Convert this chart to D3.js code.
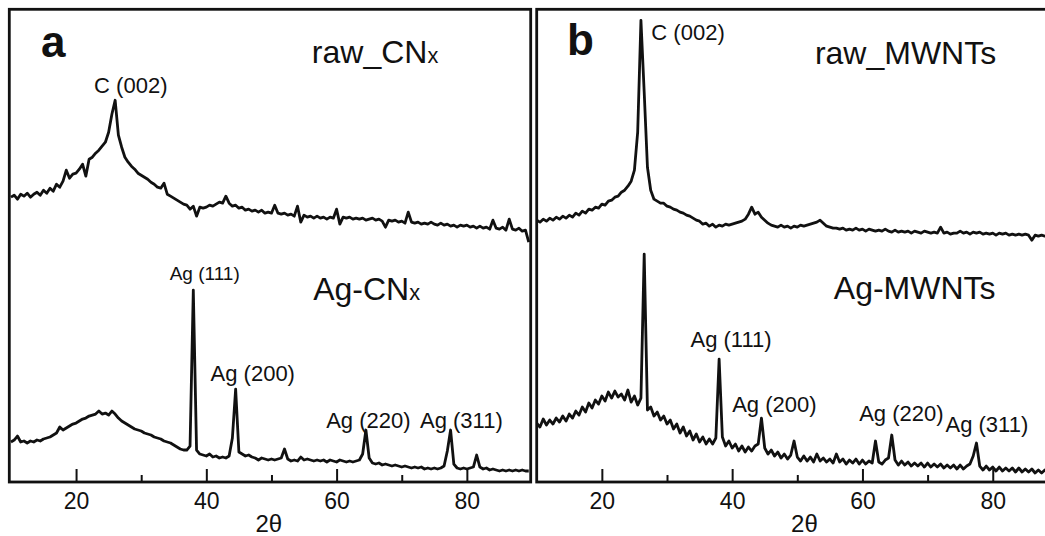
<!DOCTYPE html>
<html><head><meta charset="utf-8">
<script src="https://cdn.jsdelivr.net/npm/d3@7"></script>
<style>
body{margin:0;background:#fff}
svg{display:block}
text{font-family:"Liberation Sans",Arial,Helvetica,sans-serif;fill:#111}
.letter{font-size:44px;font-weight:bold}
.big{font-size:32px}
.peak{font-size:22px}
.peaksm{font-size:19px}
.tick text{font-size:23px;fill:#111}
.title{font-size:24px}
</style>
</head><body><svg id="c" width="1045" height="536"></svg>
<script>
// 2θ grid (degrees)
const twoTheta=[
10,10.5,11,11.5,12,12.5,13,13.5,14,14.5,
15,15.5,16,16.5,17,17.5,18,18.5,19,19.5,
20,20.5,21,21.5,22,22.5,23,23.5,24,24.5,
25,25.5,26,26.5,27,27.5,28,28.5,29,29.5,
30,30.5,31,31.5,32,32.5,33,33.5,34,34.5,
35,35.5,36,36.5,37,37.5,38,38.5,39,39.5,
40,40.5,41,41.5,42,42.5,43,43.5,44,44.5,
45,45.5,46,46.5,47,47.5,48,48.5,49,49.5,
50,50.5,51,51.5,52,52.5,53,53.5,54,54.5,
55,55.5,56,56.5,57,57.5,58,58.5,59,59.5,
60,60.5,61,61.5,62,62.5,63,63.5,64,64.5,
65,65.5,66,66.5,67,67.5,68,68.5,69,69.5,
70,70.5,71,71.5,72,72.5,73,73.5,74,74.5,
75,75.5,76,76.5,77,77.5,78,78.5,79,79.5,
80,80.5,81,81.5,82,82.5,83,83.5,84,84.5,
85,85.5,86,86.5,87,87.5,88,88.5,89,89.5];

// intensities (a.u., stacked with offset)
const rawCNx=[
285,287,283,288,286,289,285,288,290,287,
292,289,294,291,298,295,301,312,304,308,
309,313,318,306,323,325,329,332,336,340,
350,368,382,347,335,325,320,316,313,309,
307,305,303,300,298,295,294,299,288,286,
284,282,280,278,277,273,276,266,275,274,
275,277,276,278,280,279,286,279,276,277,
274,275,272,273,271,272,270,272,269,270,
269,277,269,268,269,267,268,266,276,260,
267,265,266,264,266,264,265,263,265,264,
273,258,265,264,265,263,264,263,264,262,
263,264,262,263,261,255,262,261,262,260,
261,259,270,260,259,260,258,259,258,260,
258,257,259,257,258,256,257,255,257,256,
257,255,256,254,256,254,255,253,262,254,
253,255,252,263,253,252,254,251,252,240];

const agCNx=[
40,42,46,40,41,39,41,40,42,41,
43,44,45,47,49,55,52,54,56,58,
59,61,63,64,66,67,68,71,68,69,
67,71,68,64,61,59,57,55,53,52,
51,49,48,47,45,44,43,41,40,39,
37,35,33,32,32,36,192,32,28,27,
26,28,25,26,24,25,24,26,44,93,
30,28,26,27,25,24,22,24,23,22,
23,22,23,24,33,23,21,22,21,25,
22,23,22,21,22,21,22,20,22,21,
20,22,21,20,21,20,21,22,28,52,
24,19,18,19,17,18,17,16,17,16,
15,16,15,14,15,14,15,13,14,13,
14,13,14,16,31,52,18,14,13,14,
13,14,15,27,15,13,14,12,13,12,
11,12,11,12,11,12,11,12,11,11];

const rawMWNTs=[
262,260,263,261,264,262,265,263,266,264,
267,265,269,267,271,269,273,272,275,274,
278,277,281,282,285,286,290,292,296,301,
312,350,462,390,315,292,283,281,279,279,
276,275,273,272,270,269,267,266,264,262,
261,258,259,256,258,255,257,256,258,257,
258,259,260,261,263,268,275,268,270,265,
262,259,257,256,255,257,255,256,254,256,
255,257,256,257,258,259,260,262,259,256,
255,254,254,253,254,252,253,252,254,252,
253,251,253,252,251,252,251,253,251,250,
252,250,251,250,251,249,251,250,249,251,
250,249,250,249,255,249,250,248,249,249,
251,249,250,248,250,249,250,248,249,248,
249,247,249,248,249,247,248,247,248,247,
248,247,242,247,246,247,246,247,246,246];

const agMWNTs=[
59,55,63,57,62,58,64,60,66,61,
68,64,71,67,75,70,79,74,82,78,
86,81,90,84,91,85,88,82,92,80,
86,77,84,228,72,75,66,70,62,66,
58,62,53,58,49,55,46,51,42,48,
40,45,38,43,38,44,123,45,36,41,
34,38,31,36,30,35,31,36,38,64,
34,28,32,26,30,24,28,23,27,41,
25,21,26,21,25,20,28,21,24,20,
23,19,28,20,23,18,22,19,23,18,
22,18,21,19,41,20,18,22,24,47,
22,17,21,17,20,16,19,16,19,15,
19,15,18,15,18,14,17,14,17,13,
17,13,16,18,26,39,16,12,16,12,
15,11,15,11,14,11,14,10,14,10,
13,10,13,9,12,9,12,9,11,9];

const majorTicks=[20,40,60,80];
const minorTicks=[30,50,70];
const axisTitle="2θ";

// annotation text anchored at (2θ, intensity)
const labelsA=[
 {t:"a",x:14.6,y:425,c:"letter"},
 {t:"raw_CN",sub:"x",x:56.2,y:419,c:"big"},
 {t:"C (002)",x:28.4,y:389,c:"peak",mid:true},
 {t:"Ag (111)",x:39.75,y:202,c:"peaksm",mid:true},
 {t:"Ag-CN",sub:"x",x:56.4,y:182,c:"big"},
 {t:"Ag (200)",x:40.65,y:101,c:"peak"},
 {t:"Ag (220)",x:58.4,y:54,c:"peak"},
 {t:"Ag (311)",x:72.8,y:54,c:"peak"}
];
const labelsB=[
 {t:"b",x:14.65,y:427,c:"letter"},
 {t:"C (002)",x:27.6,y:442,c:"peak"},
 {t:"raw_MWNTs",x:52.7,y:418,c:"big"},
 {t:"Ag-MWNTs",x:55.6,y:183,c:"big"},
 {t:"Ag (111)",x:33.6,y:135,c:"peak"},
 {t:"Ag (200)",x:40.0,y:70,c:"peak"},
 {t:"Ag (220)",x:59.5,y:61,c:"peak"},
 {t:"Ag (311)",x:72.75,y:50,c:"peak"}
];

const svg=d3.select("#c");
const TOP=9.3, BOT=482;
const y=d3.scaleLinear().domain([0,473]).range([BOT,TOP]);

const panels=[
 {key:"a",series:[rawCNx,agCNx],domain:[9.75,89.8],range:[9.3,530.7],labels:labelsA,title:49.6},
 {key:"b",series:[rawMWNTs,agMWNTs],domain:[10,90],range:[536.7,1057.9],labels:labelsB,title:51.1}
];

panels.forEach(p=>{
  const x=d3.scaleLinear().domain(p.domain).range(p.range);
  const g=svg.append("g");
  const cid="clip"+p.key;
  svg.append("clipPath").attr("id",cid).append("rect")
    .attr("x",p.range[0]).attr("y",TOP).attr("width",p.range[1]-p.range[0]).attr("height",BOT-TOP);
  const line=d3.line().x((d,i)=>x(twoTheta[i])).y(d=>y(d));
  p.series.forEach(s=>{
    g.append("path").datum(s).attr("d",line).attr("clip-path",`url(#${cid})`)
      .attr("fill","none").attr("stroke","#111").attr("stroke-width",2.8)
      .attr("stroke-linejoin","round");
  });
  // axes
  const ax=g.append("g").attr("transform",`translate(0,${BOT})`)
    .call(d3.axisBottom(x).tickValues(majorTicks).tickSize(-13).tickSizeOuter(0).tickPadding(11).tickFormat(d3.format("d")));
  ax.select(".domain").remove();
  ax.selectAll(".tick line").attr("stroke","#111").attr("stroke-width",2);
  const mx=g.append("g").attr("transform",`translate(0,${BOT})`)
    .call(d3.axisBottom(x).tickValues(minorTicks).tickSize(-7).tickSizeOuter(0).tickFormat(""));
  mx.select(".domain").remove();
  mx.selectAll(".tick line").attr("stroke","#111").attr("stroke-width",2);
  ax.attr("font-family",null).attr("font-size",null);
  // frame
  g.append("rect").attr("x",p.range[0]).attr("y",TOP)
    .attr("width",p.range[1]-p.range[0]).attr("height",BOT-TOP)
    .attr("fill","none").attr("stroke","#111").attr("stroke-width",2.8);
  // title
  g.append("text").attr("class","title").attr("x",x(p.title)).attr("y",y(-50))
    .attr("text-anchor","middle").text(axisTitle);
  // labels
  p.labels.forEach(l=>{
    const t=g.append("text").attr("class",l.c).attr("x",x(l.x)).attr("y",y(l.y))
      .attr("text-anchor",l.mid?"middle":"start");
    t.append("tspan").text(l.t);
    if(l.sub) t.append("tspan").attr("font-size","0.68em").text(l.sub);
  });
});
</script>
</body></html>
